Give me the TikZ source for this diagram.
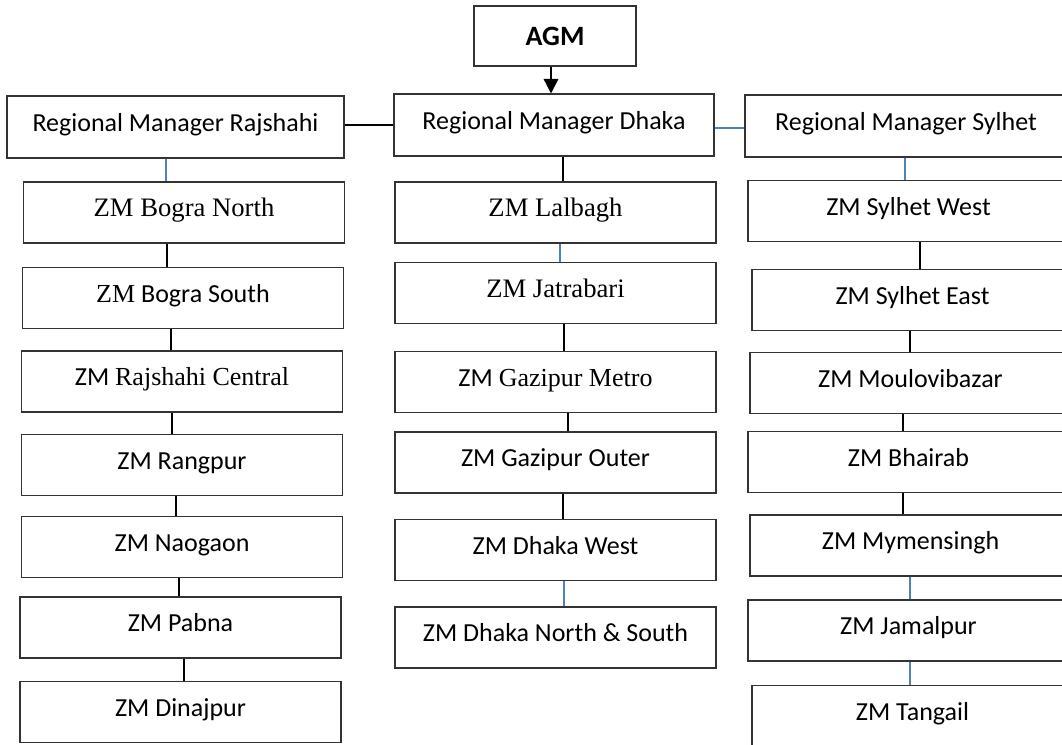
\documentclass[tikz,border=0pt]{standalone}
\usepackage{fontspec}
\setmainfont{Carlito}
\newfontfamily\tms{Liberation Serif}
\usetikzlibrary{arrows.meta, positioning}

\definecolor{linkblue}{RGB}{79,129,189}

\tikzset{
  unit/.style={draw=black!80, line width=0.8pt, inner sep=0pt, text height=14pt, text depth=8pt,
    minimum width=240.75pt, minimum height=45.75pt, font=\fontsize{19.5}{22}\selectfont},
  serif/.style={font=\fontsize{20}{22}\tms},
  link/.style={line width=1.1pt, black},
  bluelink/.style={line width=1.1pt, linkblue}
}

\begin{document}
\begin{tikzpicture}[x=0.75pt, y=-0.75pt]
        \clip (0,0) rectangle (1062,744);
        \useasboundingbox (0,0) rectangle (1062,744);

        % top
        \node[unit, minimum width=121.5pt, minimum height=45pt, text height=13.5pt, text depth=0pt,
          font=\fontsize{21}{24}\selectfont\bfseries] (AGM) at (555,36) {AGM};
        \node[unit, minimum width=252.75pt, minimum height=46.5pt] (RMRajshahi) at (175.5,127) {Regional Manager Rajshahi};
        \node[unit, minimum width=240pt, minimum height=46.5pt] (RMDhaka) at (554,125) {Regional Manager Dhaka};
        \node[unit, minimum width=241.5pt, minimum height=46.5pt] (RMSylhet) at (906,126) {Regional Manager Sylhet};

        % Rajshahi zones
        \node[unit, serif] (BograN) at (184,212.5) {ZM Bogra North};
        \node[unit] (BograS) at (183,298) {{\tms ZM} Bogra South};
        \node[unit] (RajC) at (182,381.5) {ZM {\tms Rajshahi Central}};
        \node[unit] (Rangpur) at (182,465) {ZM Rangpur};
        \node[unit] (Naogaon) at (182,547) {ZM Naogaon};
        \node[unit] (Pabna) at (180.5,627.5) {ZM Pabna};
        \node[unit] (Dinajpur) at (180.5,712) {ZM Dinajpur};

        % Dhaka zones
        \node[unit, serif] (Lalbagh) at (555.5,212.5) {ZM Lalbagh};
        \node[unit, serif] (Jatrabari) at (555.5,293) {ZM Jatrabari};
        \node[unit] (GazM) at (555.5,382) {ZM {\tms Gazipur Metro}};
        \node[unit] (GazO) at (555.5,462.5) {ZM Gazipur Outer};
        \node[unit] (DhakaW) at (555.5,550) {ZM Dhaka West};
        \node[unit] (DhakaNS) at (555.5,637.5) {ZM Dhaka North \& South};

        % Sylhet zones
        \node[unit] (SylW) at (908.5,211) {ZM Sylhet West};
        \node[unit] (SylE) at (912.5,300) {ZM Sylhet East};
        \node[unit] (Moulvi) at (910.5,383) {ZM Moulovibazar};
        \node[unit] (Bhairab) at (908.5,462) {ZM Bhairab};
        \node[unit] (Mymen) at (910.5,545.5) {ZM Mymensingh};
        \node[unit] (Jamal) at (908.5,630.5) {ZM Jamalpur};
        \node[unit] (Tangail) at (912.5,716) {ZM Tangail};

        % connectors
        \draw[link, -{Triangle[width=11pt, length=11pt]}] (AGM.south -| 551,0) -- (RMDhaka.north -| 551,0);
        \draw[link] (RMDhaka.west -| RMRajshahi.east) -- (RMDhaka.west);
        \draw[bluelink] (RMDhaka.east |- 0,128) -- (RMSylhet.west |- 0,128);

        \draw[bluelink] (RMRajshahi.south -| 166,0) -- (BograN.north -| 166,0);
        \draw[link] (BograN.south -| 167,0) -- (BograS.north -| 167,0);
        \draw[link] (BograS.south -| 171,0) -- (RajC.north -| 171,0);
        \draw[link] (RajC.south -| 172,0) -- (Rangpur.north -| 172,0);
        \draw[link] (Rangpur.south -| 176,0) -- (Naogaon.north -| 176,0);
        \draw[link] (Naogaon.south -| 179,0) -- (Pabna.north -| 179,0);
        \draw[link] (Pabna.south -| 184,0) -- (Dinajpur.north -| 184,0);

        \draw[link] (RMDhaka.south -| 563,0) -- (Lalbagh.north -| 563,0);
        \draw[bluelink] (Lalbagh.south -| 560,0) -- (Jatrabari.north -| 560,0);
        \draw[link] (Jatrabari.south -| 564,0) -- (GazM.north -| 564,0);
        \draw[link] (GazM.south -| 568,0) -- (GazO.north -| 568,0);
        \draw[link] (GazO.south -| 563,0) -- (DhakaW.north -| 563,0);
        \draw[bluelink] (DhakaW.south -| 564,0) -- (DhakaNS.north -| 564,0);

        \draw[bluelink] (RMSylhet.south -| 905,0) -- (SylW.north -| 905,0);
        \draw[link] (SylW.south -| 920,0) -- (SylE.north -| 920,0);
        \draw[link] (SylE.south -| 910,0) -- (Moulvi.north -| 910,0);
        \draw[link] (Moulvi.south -| 903,0) -- (Bhairab.north -| 903,0);
        \draw[link] (Bhairab.south -| 903,0) -- (Mymen.north -| 903,0);
        \draw[bluelink] (Mymen.south -| 910,0) -- (Jamal.north -| 910,0);
        \draw[bluelink] (Jamal.south -| 910,0) -- (Tangail.north -| 910,0);
    \end{tikzpicture}
\end{document}
